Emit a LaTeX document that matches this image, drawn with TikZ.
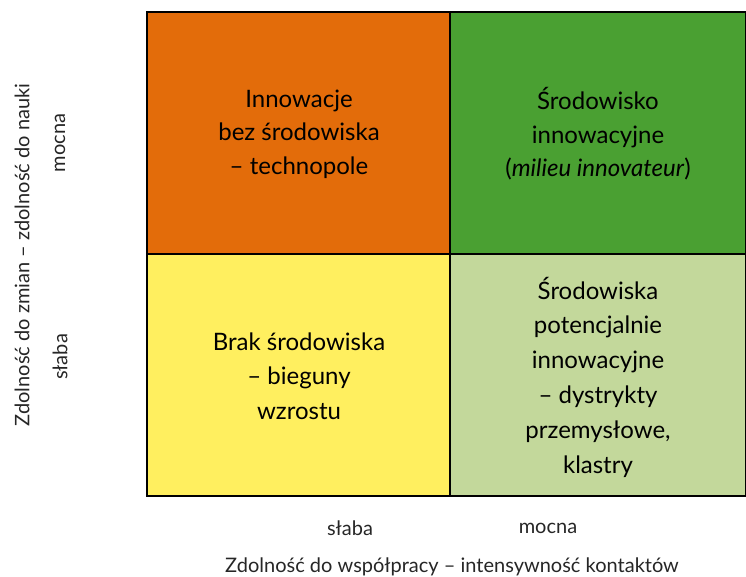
\documentclass[tikz,border=0pt]{standalone}
\usepackage{fontspec}
\setmainfont{Lato}
\definecolor{corange}{RGB}{227,108,10}
\definecolor{cgreen}{RGB}{74,160,50}
\definecolor{cyellow}{RGB}{255,239,95}
\definecolor{clight}{RGB}{195,216,155}
\begin{document}
\begin{tikzpicture}[x=1pt,y=-1pt,
  cell/.style={draw=black,line width=1.3pt},
  celltext/.style={align=center,font=\fontsize{24}{33.5}\selectfont,text=black},
  axis/.style={font=\fontsize{20}{24}\selectfont,text=black!85}]
\useasboundingbox (0,0) rectangle (746,577);
\fill[corange] (147,12) rectangle (450,254);
\fill[cgreen] (450,12) rectangle (746,254);
\fill[cyellow] (147,254) rectangle (450,496);
\fill[clight] (450,254) rectangle (746,496);
\draw[cell] (147,12) rectangle (746,496);
\draw[cell] (450,12) -- (450,496);
\draw[cell] (147,254) -- (746,254);
\node[celltext] (tl) at (299,134) {Innowacje\\bez środowiska\\– technopole};
\node[celltext] (tr) at (598,134) {Środowisko\\innowacyjne\\(\textit{milieu innovateur})};
\node[celltext,font=\fontsize{24}{34.5}\selectfont] (bl) at (299,376) {Brak środowiska\\– bieguny\\wzrostu};
\node[celltext,font=\fontsize{24}{34.8}\selectfont] (br) at (598,377) {Środowiska\\potencjalnie\\innowacyjne\\– dystrykty\\przemysłowe,\\klastry};
\node[axis] (xs) at (350,528) {słaba};
\node[axis] (xm) at (548,528) {mocna};
\node[axis] (xl) at (452,567) {Zdolność do współpracy – intensywność kontaktów};
\node[axis,rotate=90] (ym) at (60,143) {mocna};
\node[axis,rotate=90] (ys) at (60,357) {słaba};
\node[axis,rotate=90] (yl) at (22,255) {Zdolność do zmian – zdolność do nauki};
\end{tikzpicture}
\end{document}
